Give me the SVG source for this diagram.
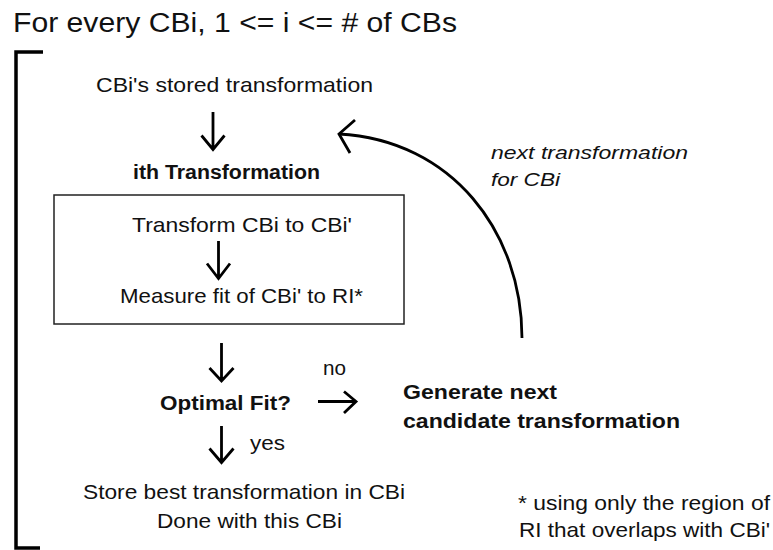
<svg xmlns="http://www.w3.org/2000/svg" width="773" height="550" viewBox="0 0 773 550">
  <style>
    text { font-family: "Liberation Sans", Arial, sans-serif; fill: #111; }
    .t { font-size: 21px; }
    .b { font-size: 20px; font-weight: bold; }
    .i { font-size: 19px; font-style: italic; }
    .title { font-size: 27px; }
    .arrow { fill: none; stroke: #000; stroke-width: 2.8; stroke-linecap: butt; stroke-linejoin: miter; }
    .bracket { fill: none; stroke: #000; stroke-width: 3.5; }
    .box { fill: #fff; stroke: #222; stroke-width: 1.5; }
  </style>
  <rect width="773" height="550" fill="#fff"/>

  <text id="title" class="title" x="13" y="32" textLength="444" lengthAdjust="spacingAndGlyphs">For every CBi, 1 &lt;= i &lt;= # of CBs</text>

  <!-- loop bracket -->
  <path id="loop-bracket" class="bracket" d="M43,52 H16 V548 H40"/>

  <g id="stored">
    <text class="t" x="96" y="92" textLength="277" lengthAdjust="spacingAndGlyphs">CBi's stored transformation</text>
  </g>

  <g id="ith-transformation">
    <text class="b" x="133" y="179" textLength="187" lengthAdjust="spacingAndGlyphs">ith Transformation</text>
  </g>

  <g id="transform-box">
    <rect class="box" x="54" y="195" width="350" height="129"/>
    <text class="t" x="132" y="232" textLength="220" lengthAdjust="spacingAndGlyphs">Transform CBi to CBi'</text>
    <text class="t" x="120" y="303" textLength="243" lengthAdjust="spacingAndGlyphs">Measure fit of CBi' to RI*</text>
  </g>

  <g id="optimal-fit">
    <text class="b" x="160" y="410" textLength="131" lengthAdjust="spacingAndGlyphs">Optimal Fit?</text>
  </g>

  <g id="generate">
    <text class="b" x="403" y="399" textLength="154" lengthAdjust="spacingAndGlyphs">Generate next</text>
    <text class="b" x="403" y="428" textLength="277" lengthAdjust="spacingAndGlyphs">candidate transformation</text>
  </g>

  <g id="store-best">
    <text class="t" x="83" y="499" textLength="322" lengthAdjust="spacingAndGlyphs">Store best transformation in CBi</text>
    <text class="t" x="157" y="528" textLength="185" lengthAdjust="spacingAndGlyphs">Done with this CBi</text>
  </g>

  <g id="footnote">
    <text class="t" x="518" y="510" textLength="252" lengthAdjust="spacingAndGlyphs">* using only the region of</text>
    <text class="t" x="519" y="537" textLength="251" lengthAdjust="spacingAndGlyphs">RI that overlaps with CBi'</text>
  </g>

  <g id="connectors">
    <!-- stored -> ith transformation -->
    <path class="arrow" d="M213,112 V150 M201.5,135.5 L213,149.5 L224.5,135.5"/>
    <!-- transform -> measure -->
    <path class="arrow" d="M218.5,241 V279 M207,263.5 L218.5,278.5 L230,263.5"/>
    <!-- box -> optimal fit -->
    <path class="arrow" d="M221.5,343 V381.5 M209.5,368 L221.5,381 L233.5,368"/>
    <!-- optimal fit -> store (yes) -->
    <path class="arrow" d="M221.5,426 V463 M209.5,448.5 L221.5,462.5 L233.5,448.5"/>
    <text class="t" x="250" y="450" textLength="35" lengthAdjust="spacingAndGlyphs">yes</text>
    <!-- optimal fit -> generate (no) -->
    <path class="arrow" d="M318,401.5 H356.5 M344,391.5 L356,401.5 L344,413"/>
    <text class="t" x="323" y="375" textLength="23" lengthAdjust="spacingAndGlyphs">no</text>
    <!-- generate -> ith transformation (loop back) -->
    <path class="arrow" d="M522,338 C522,232 452,140 339,134"/>
    <path class="arrow" d="M355,120 L339,134 L350,153"/>
    <text class="i" x="491" y="159" textLength="197" lengthAdjust="spacingAndGlyphs">next transformation</text>
    <text class="i" x="491" y="186" textLength="69" lengthAdjust="spacingAndGlyphs">for CBi</text>
  </g>
</svg>
